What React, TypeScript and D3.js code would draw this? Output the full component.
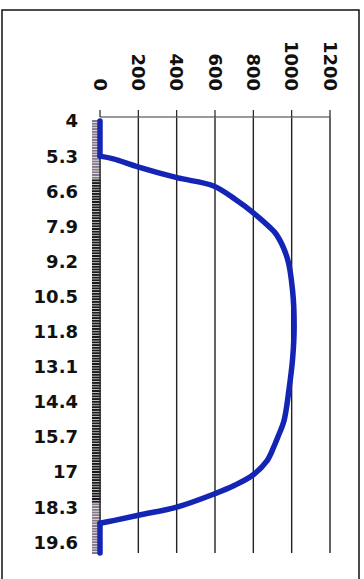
import React from "react";
import * as d3 from "d3";

const hours = [4, 5.3, 5.4, 5.7, 6.1, 6.4, 6.9, 7.4, 7.9, 8.2, 9.1, 10.3, 11.6, 12.8, 14.0, 15.1, 15.7, 16.1, 16.6, 17.1, 17.5, 17.8, 18.3, 18.6, 18.8, 18.9, 20];
const values = [0, 0, 70, 198, 401, 590, 705, 800, 880, 920, 978, 1005, 1013, 1005, 985, 960, 928, 905, 870, 800, 700, 600, 400, 200, 70, 0, 0];
const categoryLabels = ["4", "5.3", "6.6", "7.9", "9.2", "10.5", "11.8", "13.1", "14.4", "15.7", "17", "18.3", "19.6"];
const valueTicks = [0, 200, 400, 600, 800, 1000, 1200];

const W = 364;
const H = 579;
const FONT = "'DejaVu Sans', sans-serif";

export default function App() {
  const x = d3.scaleLinear().domain([0, 1200]).range([100, 330]);
  const y = d3.scaleLinear().domain([4, 20]).range([121, 553]);
  const catTicks = d3.range(0, 161).map((i) => 4 + i * 0.1);
  const idx = hours.map((_, i) => i);
  // split into flat zero runs (straight) and the curved part
  const first = values.findIndex((v) => v > 0) - 1;
  const last = values.length - values.slice().reverse().findIndex((v) => v > 0);
  const mk = (curve: d3.CurveFactory) =>
    d3
      .line<number>()
      .x((i) => x(values[i]))
      .y((i) => y(hours[i]))
      .curve(curve);
  const straight = mk(d3.curveLinear);
  const smooth = mk(d3.curveCatmullRom.alpha(0.5));
  const pTop = straight(idx.slice(0, first + 1)) || "";
  const pMid = smooth(idx.slice(first, last + 1)) || "";
  const pBot = straight(idx.slice(last)) || "";
  const topY = 117;
  const lineProps = {
    fill: "none",
    stroke: "#1424b4",
    strokeWidth: 5.5,
    strokeLinecap: "round" as const,
    strokeLinejoin: "round" as const,
  };
  return (
    <div style={{ position: "absolute", left: 0, top: 0 }}>
      <svg width={W} height={H} style={{ display: "block", background: "#fff" }}>
        <rect x={2} y={10} width={357} height={590} fill="#fff" stroke="#111" strokeWidth={1.5} />
        {valueTicks.slice(1).map((v) => (
          <line key={"g" + v} x1={x(v)} x2={x(v)} y1={topY} y2={553} stroke="#222" strokeWidth={1.4} />
        ))}
        <line x1={x(0)} x2={x(1200)} y1={topY} y2={topY} stroke="#777" strokeWidth={1.5} />
        {valueTicks.map((v) => (
          <line key={"t" + v} x1={x(v)} x2={x(v)} y1={110} y2={topY} stroke="#222" strokeWidth={1.2} />
        ))}
        {catTicks.map((h, i) => {
          const light = h < 6.2 || h > 18.2;
          return (
            <line
              key={"c" + i}
              x1={92}
              x2={101}
              y1={y(h)}
              y2={y(h)}
              stroke={light ? "#85788a" : "#1a1a1a"}
              strokeWidth={2}
            />
          );
        })}
        <line x1={100} x2={100} y1={y(4)} y2={y(20)} stroke="#333" strokeWidth={1.5} />
        {valueTicks.map((v) => (
          <text
            key={"l" + v}
            transform={`translate(${x(v)},91) rotate(90)`}
            textAnchor="end"
            dy="0.36em"
            fontFamily={FONT}
            fontWeight="bold"
            fontSize={18}
            fill="#111"
          >
            {v}
          </text>
        ))}
        {categoryLabels.map((c, i) => (
          <text
            key={"k" + c}
            x={78}
            y={y(4 + i * 1.3)}
            dy="0.36em"
            textAnchor="end"
            fontFamily={FONT}
            fontWeight="bold"
            fontSize={18}
            fill="#111"
          >
            {c}
          </text>
        ))}
        <path d={pTop} {...lineProps} />
        <path d={pMid} {...lineProps} />
        <path d={pBot} {...lineProps} />
      </svg>
    </div>
  );
}
